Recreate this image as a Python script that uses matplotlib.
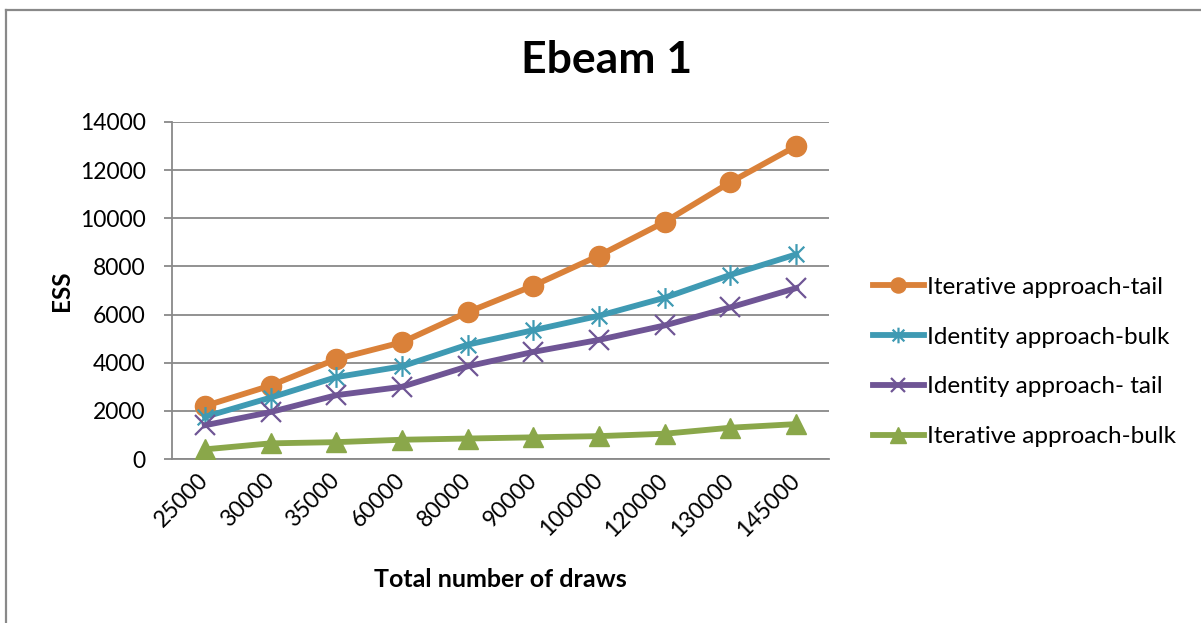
import matplotlib
matplotlib.use("Agg")
import matplotlib.pyplot as plt
from matplotlib.path import Path
from matplotlib.lines import Line2D

plt.rcParams['font.family'] = ['Lato', 'DejaVu Sans']

# ---- data -------------------------------------------------------------
draws = ['25000', '30000', '35000', '60000', '80000',
         '90000', '100000', '120000', '130000', '145000']
iterative_tail = [2200, 3050, 4150, 4850, 6100, 7200, 8450, 9850, 11500, 13000]
identity_bulk = [1750, 2550, 3400, 3850, 4750, 5350, 5950, 6700, 7650, 8500]
identity_tail = [1400, 1950, 2650, 3000, 3850, 4450, 4950, 5550, 6300, 7100]
iterative_bulk = [400, 650, 700, 800, 850, 900, 950, 1050, 1300, 1450]
y_ticks = [0, 2000, 4000, 6000, 8000, 10000, 12000, 14000]

series_labels = ['Iterative approach-tail', 'Identity approach-bulk',
                 'Identity approach- tail', 'Iterative approach-bulk']

# ---- styling ----------------------------------------------------------
GRID = '#898989'
colors = ['#DA8139', '#3F9AB3', '#6F5595', '#8AA74A']

# asterisk-style marker: vertical bar plus a diagonal cross
star_path = Path(
    [(0, -1), (0, 1), (-0.75, -0.75), (0.75, 0.75), (-0.75, 0.75), (0.75, -0.75)],
    [Path.MOVETO, Path.LINETO, Path.MOVETO, Path.LINETO, Path.MOVETO, Path.LINETO])

W, H = 1201, 623
fig = plt.figure(figsize=(W / 100, H / 100), dpi=100)
ax = fig.add_axes([172 / W, 1 - 459 / H, (829 - 172) / W, (459 - 122) / H])

x = list(range(len(draws)))
lw = 4.2
ax.plot(x, iterative_tail, color=colors[0], lw=lw, marker='o', ms=14.5,
        label=series_labels[0], zorder=3)
ax.plot(x, identity_bulk, color=colors[1], lw=lw, marker=star_path, ms=15,
        mew=1.6, label=series_labels[1], zorder=3)
ax.plot(x, identity_tail, color=colors[2], lw=lw, marker='x', ms=14,
        mew=1.6, label=series_labels[2], zorder=3)
ax.plot(x, iterative_bulk, color=colors[3], lw=lw, marker='^', ms=15,
        label=series_labels[3], zorder=3)

ax.set_xlim(-0.5, len(draws) - 0.5)
ax.set_ylim(0, 14000)
ax.set_yticks(y_ticks)
ax.set_yticklabels([str(v) for v in y_ticks])
ax.set_xticks(x)
ax.set_xticklabels(draws, rotation=45, ha='right', va='center',
                   rotation_mode='anchor')

ax.yaxis.grid(True, color=GRID, lw=1.3)
ax.set_axisbelow(True)
for s in ['top', 'right']:
    ax.spines[s].set_visible(False)
for s in ['left', 'bottom']:
    ax.spines[s].set_color(GRID)
    ax.spines[s].set_linewidth(1.3)

ax.tick_params(axis='y', length=6, width=1.3, color=GRID, pad=13,
               labelsize=16.5, labelcolor='black')
ax.tick_params(axis='x', length=0, pad=13, labelsize=16.5, labelcolor='black')

ax.set_ylabel('ESS', fontsize=17.5, fontweight='bold', labelpad=5)
ax.set_xlabel('Total number of draws', fontsize=18, fontweight='bold',
              labelpad=20)

fig.text(607 / W, 1 - 60 / H, 'Ebeam 1', ha='center', va='center',
         fontsize=32, fontweight='bold')

leg = fig.legend(loc='center left', bbox_to_anchor=(851 / W, 1 - 362 / H),
                 frameon=False, fontsize=17.5, handlelength=2.1,
                 handletextpad=0.12, labelspacing=1.18, markerscale=0.75)

# chart-area border (top and left edges)
fig.add_artist(Line2D([6 / W, 1], [1 - 10 / H, 1 - 10 / H],
                      transform=fig.transFigure, color=GRID, lw=1.6))
fig.add_artist(Line2D([6 / W, 6 / W], [0, 1 - 10 / H],
                      transform=fig.transFigure, color=GRID, lw=1.6))

fig.savefig('out.png', dpi=100, facecolor='white')
